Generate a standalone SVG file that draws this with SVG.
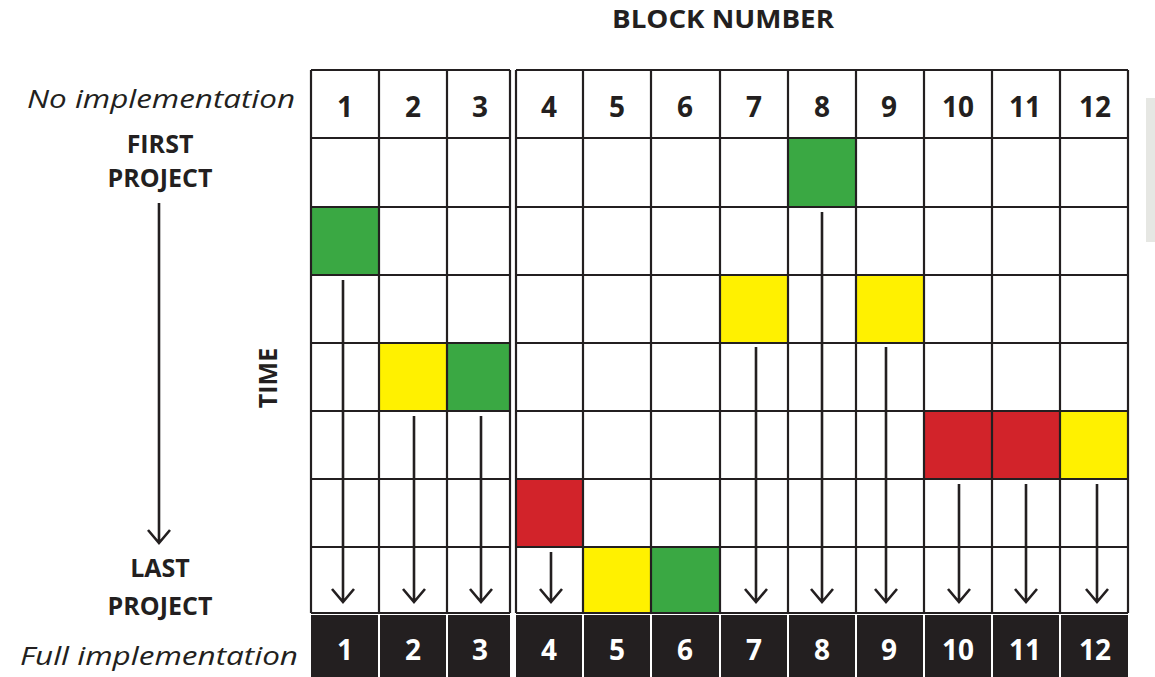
<svg xmlns="http://www.w3.org/2000/svg" width="1155" height="677" viewBox="0 0 1155 677">
<style>
.bg{fill:#ffffff}
.grid{stroke:#231f20;stroke-width:2.2;fill:none}
.g{fill:#3aa843}
.y{fill:#fff100}
.r{fill:#d2232a}
.blk{fill:#231f20}
.hd{font-family:"Open Sans","Liberation Sans",sans-serif;font-weight:bold;font-size:28px;fill:#231f20;text-anchor:middle}
.ft{font-family:"Open Sans","Liberation Sans",sans-serif;font-weight:bold;font-size:28px;fill:#ffffff;text-anchor:middle}
.lbl{font-family:"Open Sans","Liberation Sans",sans-serif;font-weight:bold;font-size:25px;fill:#231f20;text-anchor:middle}
.it{font-family:"Open Sans","Liberation Sans",sans-serif;font-style:italic;font-size:26px;fill:#231f20;text-anchor:start}
.arr{stroke:#231f20;stroke-width:2.6;fill:none;stroke-linecap:butt}
</style>
<rect class="bg" x="0" y="0" width="1155" height="677"/>
<rect x="1146" y="98" width="9" height="144" fill="#e6e7e3"/>

<g id="title"><text class="lbl" x="723" y="28" font-size="24" textLength="222" lengthAdjust="spacingAndGlyphs">BLOCK NUMBER</text></g>

<g id="labels">
<text class="it" x="27" y="108" textLength="268" lengthAdjust="spacingAndGlyphs">No implementation</text>
<text class="lbl" x="160" y="153">FIRST</text>
<text class="lbl" x="160" y="187" font-size="26">PROJECT</text>
<text class="lbl" x="160" y="577">LAST</text>
<text class="lbl" x="160" y="615" font-size="26">PROJECT</text>
<text class="lbl" transform="translate(277,378) rotate(-90)" font-size="27">TIME</text>
<text class="it" x="20" y="665" textLength="278" lengthAdjust="spacingAndGlyphs">Full implementation</text>
</g>

<g id="colored-cells">
<rect class="g" x="788" y="138" width="68" height="69"/>
<rect class="g" x="311" y="207" width="68" height="68"/>
<rect class="y" x="720" y="275" width="68" height="68"/>
<rect class="y" x="856" y="275" width="68" height="68"/>
<rect class="y" x="379" y="343" width="68" height="68"/>
<rect class="g" x="447" y="343" width="63" height="68"/>
<rect class="r" x="924" y="411" width="68" height="68"/>
<rect class="r" x="992" y="411" width="68" height="68"/>
<rect class="y" x="1060" y="411" width="68" height="68"/>
<rect class="r" x="516" y="479" width="67" height="68"/>
<rect class="y" x="583" y="547" width="68" height="66"/>
<rect class="g" x="651" y="547" width="69" height="66"/>
</g>

<g id="grid-left">
<path class="grid" d="M311,70H510M311,138H510M311,207H510M311,275H510M311,343H510M311,411H510M311,479H510M311,547H510M311,613H510"/>
<path class="grid" d="M311,70V613M379,70V613M447,70V613M510,70V613"/>
</g>
<g id="grid-right">
<path class="grid" d="M516,70H1128M516,138H1128M516,207H1128M516,275H1128M516,343H1128M516,411H1128M516,479H1128M516,547H1128M516,613H1128"/>
<path class="grid" d="M516,70V613M583,70V613M651,70V613M720,70V613M788,70V613M856,70V613M924,70V613M992,70V613M1060,70V613M1128,70V613"/>
</g>

<g id="header-numbers">
<text class="hd" x="345" y="117">1</text>
<text class="hd" x="413" y="117">2</text>
<text class="hd" x="480" y="117">3</text>
<text class="hd" x="549" y="117">4</text>
<text class="hd" x="617" y="117">5</text>
<text class="hd" x="685" y="117">6</text>
<text class="hd" x="754" y="117">7</text>
<text class="hd" x="822" y="117">8</text>
<text class="hd" x="889" y="117">9</text>
<text class="hd" x="958" y="117">10</text>
<text class="hd" x="1025" y="117">11</text>
<text class="hd" x="1095" y="117">12</text>
</g>

<g id="footer-cells">
<rect class="blk" x="311" y="615" width="67" height="62"/>
<rect class="blk" x="380" y="615" width="66" height="62"/>
<rect class="blk" x="448" y="615" width="62" height="62"/>
<rect class="blk" x="516" y="615" width="66" height="62"/>
<rect class="blk" x="584" y="615" width="66" height="62"/>
<rect class="blk" x="652" y="615" width="67" height="62"/>
<rect class="blk" x="721" y="615" width="66" height="62"/>
<rect class="blk" x="789" y="615" width="66" height="62"/>
<rect class="blk" x="857" y="615" width="66" height="62"/>
<rect class="blk" x="925" y="615" width="66" height="62"/>
<rect class="blk" x="993" y="615" width="66" height="62"/>
<rect class="blk" x="1061" y="615" width="67" height="62"/>
<text class="ft" x="345" y="660">1</text>
<text class="ft" x="413" y="660">2</text>
<text class="ft" x="480" y="660">3</text>
<text class="ft" x="549" y="660">4</text>
<text class="ft" x="617" y="660">5</text>
<text class="ft" x="685" y="660">6</text>
<text class="ft" x="754" y="660">7</text>
<text class="ft" x="822" y="660">8</text>
<text class="ft" x="889" y="660">9</text>
<text class="ft" x="958" y="660">10</text>
<text class="ft" x="1025" y="660">11</text>
<text class="ft" x="1095" y="660">12</text>
</g>

<g id="connectors">
<path class="arr" d="M159,203V542M148,530L159,543L170,530"/>
<path class="arr" d="M343,280V601M332,589L343,602L354,589"/>
<path class="arr" d="M414,416V601M403,589L414,602L425,589"/>
<path class="arr" d="M481,416V601M470,589L481,602L492,589"/>
<path class="arr" d="M551,552V601M540,589L551,602L562,589"/>
<path class="arr" d="M756,347V601M745,589L756,602L767,589"/>
<path class="arr" d="M822,212V601M811,589L822,602L833,589"/>
<path class="arr" d="M886,347V601M875,589L886,602L897,589"/>
<path class="arr" d="M959,484V601M948,589L959,602L970,589"/>
<path class="arr" d="M1026,484V601M1015,589L1026,602L1037,589"/>
<path class="arr" d="M1097,484V601M1086,589L1097,602L1108,589"/>
</g>
</svg>
